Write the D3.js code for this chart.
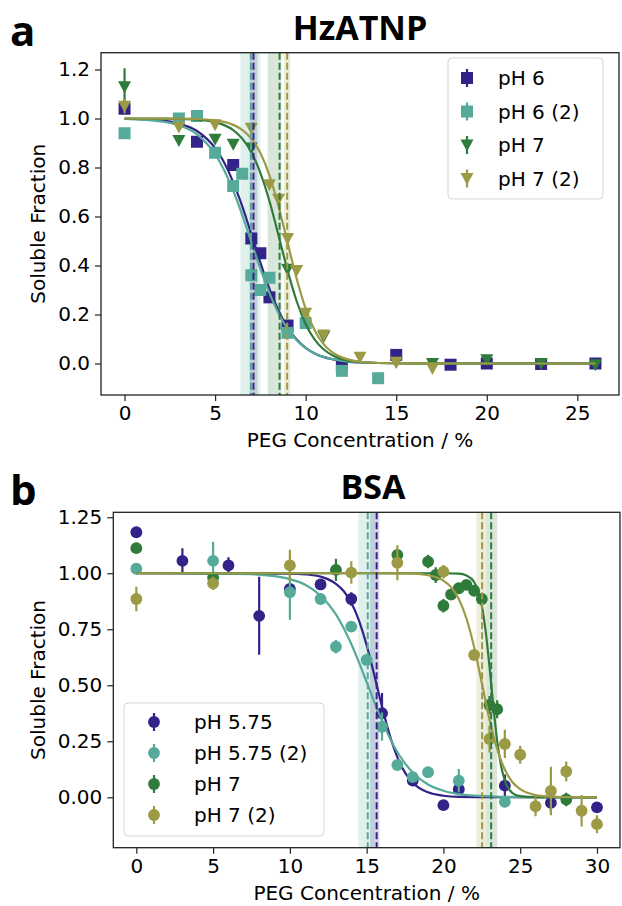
<!DOCTYPE html>
<html>
<head>
<meta charset="utf-8">
<script src="https://cdn.jsdelivr.net/npm/d3@7"></script>
<style>
  body { margin: 0; background: #fff; }
  text { font-family: "DejaVu Sans", sans-serif; fill: #000; }
</style>
</head>
<body>
<div id="chart"></div>
<script>
// ---------- panel a: HzATNP ----------
const aTicksX = [0, 5, 10, 15, 20, 25];
const aTicksY = [0, 0.2, 0.4, 0.6, 0.8, 1.0, 1.2];

const a_pH6_x   = [0, 4, 6, 7, 7.5, 8, 9, 12, 15, 18, 20, 23, 26];
const a_pH6_y   = [1.04, 0.905, 0.81, 0.51, 0.45, 0.27, 0.155, -0.005, 0.035, -0.005, 0.0, -0.002, 0.0];
const a_pH6_err = [0.02, 0.01, 0.01, 0.02, 0.01, 0.01, 0.01, 0.01, 0.01, 0.005, 0.005, 0.005, 0.005];

const a_pH6b_x   = [0, 3, 4, 5, 6, 6.5, 7, 7.5, 8, 9, 10, 12, 14];
const a_pH6b_y   = [0.94, 1.0, 1.01, 0.86, 0.725, 0.775, 0.36, 0.30, 0.35, 0.125, 0.165, -0.03, -0.06];
const a_pH6b_err = [0.015, 0.01, 0.01, 0.01, 0.01, 0.01, 0.01, 0.01, 0.01, 0.01, 0.01, 0.01, 0.01];

const a_pH7_x   = [0, 3, 5, 6, 7, 9, 11, 15, 17, 20, 23, 26];
const a_pH7_y   = [1.13, 0.91, 0.915, 0.895, 0.88, 0.385, 0.11, 0.005, 0.0, 0.015, 0.0, -0.005];
const a_pH7_err = [0.075, 0.01, 0.01, 0.01, 0.01, 0.01, 0.01, 0.005, 0.005, 0.005, 0.005, 0.005];

const a_pH7b_x   = [0, 3, 5, 7, 8, 8.5, 9, 9.5, 10, 11, 13, 15, 17];
const a_pH7b_y   = [1.05, 0.965, 0.975, 0.96, 0.73, 0.67, 0.51, 0.38, 0.205, 0.116, 0.025, 0.005, -0.02];
const a_pH7b_err = [0.03, 0.01, 0.01, 0.01, 0.01, 0.01, 0.01, 0.01, 0.01, 0.01, 0.005, 0.005, 0.005];

// fitted curves
const aFitX       = [0, 2, 3, 4, 5, 5.5, 6, 6.5, 7, 7.5, 8, 8.5, 9, 9.5, 10, 10.5, 11, 11.5, 12, 13, 14, 16, 26];
const aFit_pH6    = [0.999, 0.992, 0.979, 0.949, 0.879, 0.820, 0.740, 0.641, 0.528, 0.412, 0.305, 0.216, 0.147, 0.098, 0.064, 0.041, 0.026, 0.017, 0.010, 0.004, 0.002, 0.0003, 0];
const aFit_pH6b   = [0.998, 0.988, 0.972, 0.935, 0.854, 0.789, 0.706, 0.606, 0.496, 0.386, 0.287, 0.205, 0.141, 0.095, 0.063, 0.041, 0.027, 0.018, 0.011, 0.005, 0.002, 0.0003, 0];
const aFit_pH7    = [1.0, 0.9995, 0.9985, 0.995, 0.985, 0.973, 0.953, 0.918, 0.863, 0.778, 0.663, 0.523, 0.380, 0.255, 0.161, 0.097, 0.057, 0.033, 0.018, 0.006, 0.002, 0.0002, 0];
const aFit_pH7b   = [1.0, 0.9998, 0.9993, 0.998, 0.992, 0.986, 0.974, 0.954, 0.918, 0.859, 0.768, 0.642, 0.494, 0.347, 0.224, 0.135, 0.078, 0.044, 0.025, 0.007, 0.002, 0.0002, 0];

// midpoints (dashed) and their uncertainty bands
const aMid  = [7.12, 6.98, 8.56, 8.98];
const aBand = [[6.9, 7.33], [6.4, 7.5], [7.9, 8.67], [8.8, 9.15]];

// ---------- panel b: BSA ----------
const bTicksX = [0, 5, 10, 15, 20, 25, 30];
const bTicksY = [0, 0.25, 0.5, 0.75, 1.0, 1.25];

const b_pH575_x   = [0, 3, 6, 8, 10, 12, 14, 16, 18, 20, 21, 24, 27, 30];
const b_pH575_y   = [1.183, 1.055, 1.035, 0.81, 0.93, 0.95, 0.885, 0.375, 0.075, -0.035, 0.036, 0.052, -0.025, -0.045];
const b_pH575_err = [0.0, 0.056, 0.036, 0.174, 0.015, 0.02, 0.03, 0.09, 0.02, 0.01, 0.02, 0.05, 0.04, 0.02];

const b_pH575b_x   = [0, 5, 10, 12, 13, 14, 15, 16, 17, 18, 19, 21, 24];
const b_pH575b_y   = [1.02, 1.055, 0.915, 0.885, 0.672, 0.762, 0.613, 0.315, 0.144, 0.09, 0.112, 0.074, -0.02];
const b_pH575b_err = [0.0, 0.085, 0.123, 0.01, 0.03, 0.01, 0.01, 0.063, 0.01, 0.01, 0.02, 0.052, 0.01];

const b_pH7_x   = [0, 5, 13, 17, 19, 19.5, 20, 20.5, 21, 21.5, 22, 22.5, 23, 23.5, 28];
const b_pH7_y   = [1.112, 0.98, 1.015, 1.082, 1.052, 0.992, 0.855, 0.905, 0.933, 0.948, 0.922, 0.885, 0.412, 0.393, -0.01];
const b_pH7_err = [0.0, 0.02, 0.05, 0.02, 0.03, 0.035, 0.03, 0.02, 0.02, 0.02, 0.02, 0.02, 0.04, 0.04, 0.03];

const b_pH7b_x   = [0, 5, 10, 14, 17, 20, 22, 23, 24, 25, 26, 27, 28, 29, 30];
const b_pH7b_y   = [0.885, 0.955, 1.035, 1.003, 1.047, 1.007, 0.635, 0.26, 0.238, 0.19, -0.04, 0.028, 0.115, -0.06, -0.12];
const b_pH7b_err = [0.055, 0.03, 0.07, 0.05, 0.078, 0.03, 0.02, 0.06, 0.063, 0.04, 0.045, 0.108, 0.045, 0.07, 0.04];

const bFitX_pH575  = [0, 10, 11, 12, 13, 13.5, 14, 14.5, 15, 15.5, 16, 16.5, 17, 17.5, 18, 19, 20, 21, 23, 30];
const bFit_pH575   = [1.0, 0.998, 0.995, 0.985, 0.953, 0.921, 0.868, 0.789, 0.679, 0.545, 0.405, 0.278, 0.179, 0.110, 0.065, 0.022, 0.007, 0.002, 0.0002, 0];
const bFitX_pH575b = [0, 4, 6, 8, 9, 10, 11, 12, 12.5, 13, 13.5, 14, 14.5, 15, 15.5, 16, 16.5, 17, 17.5, 18, 19, 20, 21, 22, 24, 26, 30];
const bFit_pH575b  = [1.0, 0.9996, 0.9985, 0.994, 0.987, 0.974, 0.949, 0.900, 0.863, 0.816, 0.756, 0.684, 0.602, 0.514, 0.426, 0.341, 0.266, 0.202, 0.151, 0.111, 0.057, 0.029, 0.014, 0.007, 0.002, 0.0004, 0];
const bFitX_pH7    = [0, 18, 20, 21, 21.5, 22, 22.25, 22.5, 22.75, 23, 23.25, 23.5, 23.75, 24, 24.5, 25, 26, 30];
const bFit_pH7     = [1.0, 1.0, 0.9999, 0.998, 0.990, 0.961, 0.923, 0.855, 0.742, 0.585, 0.408, 0.252, 0.142, 0.075, 0.019, 0.005, 0.0003, 0];
const bFitX_pH7b   = [0, 14, 16, 18, 19, 20, 20.5, 21, 21.5, 22, 22.5, 23, 23.5, 24, 24.5, 25, 26, 27, 28, 30];
const bFit_pH7b    = [1.0, 1.0, 0.9998, 0.998, 0.991, 0.967, 0.938, 0.885, 0.798, 0.670, 0.510, 0.348, 0.215, 0.124, 0.067, 0.036, 0.010, 0.003, 0.0007, 0];

const bMid  = [15.65, 15.07, 23.11, 22.52];
const bBand = [[15.22, 15.83], [14.46, 15.54], [22.8, 23.5], [22.15, 22.8]];

const COLORS = ["#332288", "#55aa99", "#2e7b3a", "#9c9a45"];

// ---------- drawing ----------
const svg = d3.select("#chart").append("svg").attr("width", 622).attr("height", 906);

function markerPath(kind) {
  if (kind === "square") return "M-6,-6H6V6H-6Z";
  if (kind === "tri") return "M-6.5,-5.5H6.5L0,6.5Z";
  return d3.symbol(d3.symbolCircle, 110)();
}

function drawPanel(p) {
  const x = d3.scaleLinear().domain(p.xDom).range([p.left, p.right]);
  const y = d3.scaleLinear().domain(p.yDom).range([p.bottom, p.top]);
  const g = svg.append("g");

  svg.append("clipPath").attr("id", "clip-" + p.key)
    .append("rect").attr("x", p.left).attr("y", p.top)
    .attr("width", p.right - p.left).attr("height", p.bottom - p.top);
  const plot = g.append("g").attr("clip-path", `url(#clip-${p.key})`);

  // bands
  p.series.forEach(s => {
    plot.append("rect")
      .attr("x", x(s.band[0])).attr("width", x(s.band[1]) - x(s.band[0]))
      .attr("y", p.top).attr("height", p.bottom - p.top)
      .attr("fill", s.color).attr("opacity", 0.18);
  });

  const line = d3.line().x(d => x(d[0])).y(d => y(d[1])).curve(d3.curveMonotoneX);

  p.series.forEach(s => {
    const pts = s.x.map((v, i) => ({ x: v, y: s.y[i], e: s.err[i] }));
    plot.selectAll(null).data(pts).join("line")
      .attr("x1", d => x(d.x)).attr("x2", d => x(d.x))
      .attr("y1", d => y(d.y - d.e)).attr("y2", d => y(d.y + d.e))
      .attr("stroke", s.color).attr("stroke-width", 2.2);
    plot.selectAll(null).data(pts).join("path")
      .attr("d", markerPath(s.marker))
      .attr("transform", d => `translate(${x(d.x)},${y(d.y)})`)
      .attr("fill", s.color);
    plot.append("path")
      .datum(s.fitX.map((v, i) => [v, s.fitY[i]]))
      .attr("d", line)
      .attr("fill", "none").attr("stroke", s.color).attr("stroke-width", 2.2);
  });

  // dashed midpoints
  p.series.forEach(s => {
    plot.append("line")
      .attr("x1", x(s.mid)).attr("x2", x(s.mid))
      .attr("y1", p.top).attr("y2", p.bottom)
      .attr("stroke", s.color).attr("stroke-width", 2)
      .attr("stroke-dasharray", "7,3");
  });

  // axes
  const ax = g.append("g").attr("transform", `translate(0,${p.bottom})`)
    .call(d3.axisBottom(x).tickValues(p.xTicks).tickSize(6).tickPadding(5).tickFormat(d3.format("d")));
  const ay = g.append("g").attr("transform", `translate(${p.left},0)`)
    .call(d3.axisLeft(y).tickValues(p.yTicks).tickSize(6).tickPadding(5).tickFormat(d3.format(p.yFmt)));
  [ax, ay].forEach(a => {
    a.select(".domain").remove();
    a.selectAll(".tick line").attr("stroke", "#222").attr("stroke-width", 1.2);
    a.selectAll(".tick text").style("font-size", "20px").style("font-family", "DejaVu Sans, sans-serif").attr("fill", "#000");
  });

  g.append("rect")
    .attr("x", p.left).attr("y", p.top)
    .attr("width", p.right - p.left).attr("height", p.bottom - p.top)
    .attr("fill", "none").attr("stroke", "#222").attr("stroke-width", 1.3);

  // labels
  g.append("text")
    .attr("x", (p.left + p.right) / 2).attr("y", p.bottom + 52)
    .attr("text-anchor", "middle").style("font-size", "20px")
    .text("PEG Concentration / %");
  g.append("text")
    .attr("transform", `translate(45,${(p.top + p.bottom) / 2}) rotate(-90)`)
    .attr("text-anchor", "middle").style("font-size", "20px")
    .text("Soluble Fraction");
  g.append("text")
    .attr("x", p.titleX).attr("y", p.top - 13)
    .attr("text-anchor", "middle")
    .style("font-family", "Open Sans, sans-serif").style("font-weight", "bold").style("font-size", "34px")
    .text(p.title);
  g.append("text")
    .attr("x", 10).attr("y", p.letterY)
    .style("font-family", "Open Sans, sans-serif").style("font-weight", "bold").style("font-size", "42px")
    .text(p.letter);

  // legend
  const L = p.legend;
  const lg = g.append("g");
  lg.append("rect")
    .attr("x", L.x).attr("y", L.y).attr("width", L.w).attr("height", L.h).attr("rx", 4)
    .attr("fill", "#fff").attr("fill-opacity", 0.8).attr("stroke", "#d5d5d5").attr("stroke-width", 1);
  p.series.forEach((s, i) => {
    const cy = L.y + L.first + i * L.step;
    lg.append("line").attr("x1", L.x + L.mx).attr("x2", L.x + L.mx)
      .attr("y1", cy - 9).attr("y2", cy + 9).attr("stroke", s.color).attr("stroke-width", 2.2);
    lg.append("path").attr("d", markerPath(s.marker))
      .attr("transform", `translate(${L.x + L.mx},${cy})`).attr("fill", s.color);
    lg.append("text").attr("x", L.x + L.tx).attr("y", cy).attr("dy", "0.36em")
      .style("font-size", "20px").text(s.name);
  });
}

drawPanel({
  key: "a", title: "HzATNP", letter: "a", letterY: 46, titleX: 360,
  left: 101, right: 619, top: 52.7, bottom: 395,
  xDom: [-1.3, 27.3], yDom: [-0.1286, 1.2686],
  xTicks: aTicksX, yTicks: aTicksY, yFmt: ".1f",
  legend: { x: 448, y: 58, w: 155, h: 141, first: 20, step: 33.5, mx: 19, tx: 50 },
  series: [
    { name: "pH 6", color: COLORS[0], marker: "square", x: a_pH6_x, y: a_pH6_y, err: a_pH6_err, fitX: aFitX, fitY: aFit_pH6, mid: aMid[0], band: aBand[0] },
    { name: "pH 6 (2)", color: COLORS[1], marker: "square", x: a_pH6b_x, y: a_pH6b_y, err: a_pH6b_err, fitX: aFitX, fitY: aFit_pH6b, mid: aMid[1], band: aBand[1] },
    { name: "pH 7", color: COLORS[2], marker: "tri", x: a_pH7_x, y: a_pH7_y, err: a_pH7_err, fitX: aFitX, fitY: aFit_pH7, mid: aMid[2], band: aBand[2] },
    { name: "pH 7 (2)", color: COLORS[3], marker: "tri", x: a_pH7b_x, y: a_pH7b_y, err: a_pH7b_err, fitX: aFitX, fitY: aFit_pH7b, mid: aMid[3], band: aBand[3] }
  ]
});

drawPanel({
  key: "b", title: "BSA", letter: "b", letterY: 505, titleX: 373,
  left: 113.3, right: 620, top: 512.3, bottom: 847.7,
  xDom: [-1.5, 31.5], yDom: [-0.225, 1.272],
  xTicks: bTicksX, yTicks: bTicksY, yFmt: ".2f",
  legend: { x: 124, y: 703, w: 200, h: 133, first: 19, step: 31, mx: 30, tx: 70 },
  series: [
    { name: "pH 5.75", color: COLORS[0], marker: "circle", x: b_pH575_x, y: b_pH575_y, err: b_pH575_err, fitX: bFitX_pH575, fitY: bFit_pH575, mid: bMid[0], band: bBand[0] },
    { name: "pH 5.75 (2)", color: COLORS[1], marker: "circle", x: b_pH575b_x, y: b_pH575b_y, err: b_pH575b_err, fitX: bFitX_pH575b, fitY: bFit_pH575b, mid: bMid[1], band: bBand[1] },
    { name: "pH 7", color: COLORS[2], marker: "circle", x: b_pH7_x, y: b_pH7_y, err: b_pH7_err, fitX: bFitX_pH7, fitY: bFit_pH7, mid: bMid[2], band: bBand[2] },
    { name: "pH 7 (2)", color: COLORS[3], marker: "circle", x: b_pH7b_x, y: b_pH7b_y, err: b_pH7b_err, fitX: bFitX_pH7b, fitY: bFit_pH7b, mid: bMid[3], band: bBand[3] }
  ]
});
</script>
</body>
</html>
